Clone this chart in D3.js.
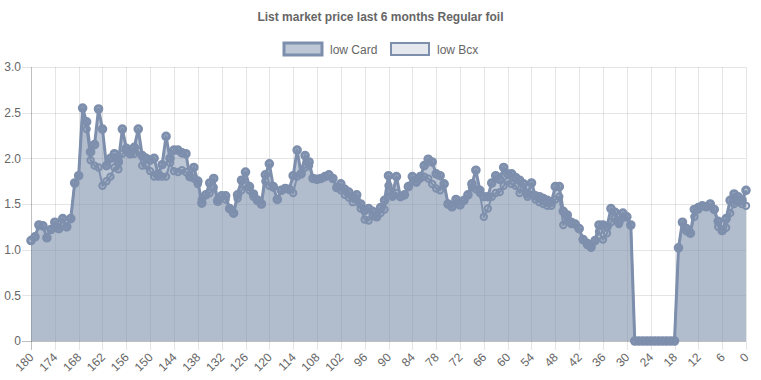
<!DOCTYPE html>
<html>
<head>
<meta charset="utf-8">
<script src="https://cdn.jsdelivr.net/npm/d3@7"></script>
<style>
  html, body { margin: 0; padding: 0; background: #fff; }
  svg { display: block; }
  text { font-family: "Liberation Sans", Arial, Helvetica, sans-serif; }
</style>
</head>
<body>
<svg id="chart" width="761" height="380"></svg>
<script>
// ---- data (days ago: 180 -> 0) ----
const days = d3.range(180, -1, -1);
const xTickLabels = [180,174,168,162,156,150,144,138,132,126,120,114,108,102,96,90,84,78,72,66,60,54,48,42,36,30,24,18,12,6,0];
const yTickValues = [0, 0.5, 1.0, 1.5, 2.0, 2.5, 3.0];
const seriesNames = ["low Card", "low Bcx"];

const lowCard = [
  1.10,1.14,1.27,1.26,1.13,1.22,1.30,1.23,1.34,1.25, // 180-171
  1.34,1.73,1.81,2.55,2.40,2.07,2.15,2.54,2.32,1.92, // 170-161
  2.00,2.05,1.96,2.32,2.11,2.05,2.12,2.32,2.03,2.00, // 160-151
  1.98,2.00,1.83,1.93,2.24,2.00,2.09,2.09,2.06,2.05, // 150-141
  1.80,1.90,1.75,1.51,1.60,1.73,1.78,1.53,1.59,1.59, // 140-131
  1.45,1.40,1.60,1.76,1.85,1.69,1.61,1.54,1.50,1.82, // 130-121
  1.94,1.69,1.55,1.65,1.67,1.66,1.81,2.09,1.83,2.03, // 120-111
  1.96,1.78,1.77,1.78,1.80,1.82,1.78,1.68,1.72,1.66, // 110-101
  1.63,1.58,1.60,1.50,1.43,1.45,1.42,1.36,1.46,1.54, // 100-91
  1.81,1.60,1.80,1.58,1.60,1.69,1.80,1.74,1.80,1.92, // 90-81
  1.99,1.96,1.83,1.81,1.72,1.50,1.47,1.55,1.49,1.54, // 80-71
  1.60,1.72,1.87,1.65,1.58,1.58,1.73,1.81,1.77,1.90, // 70-61
  1.83,1.83,1.79,1.76,1.72,1.61,1.73,1.59,1.58,1.56, // 60-51
  1.54,1.52,1.69,1.69,1.42,1.38,1.30,1.28,1.23,1.11, // 50-41
  1.07,1.03,1.10,1.27,1.27,1.25,1.45,1.41,1.30,1.40, // 40-31
  1.36,1.27,0,0,0,0,0,0,0,0,                         // 30-21
  0,0,0,1.02,1.30,1.23,1.18,1.44,1.46,1.48,          // 20-11
  1.47,1.50,1.44,1.31,1.21,1.34,1.54,1.61,1.58,1.54, // 10-1
  1.65                                               // 0
];

const lowBcx = [
  1.10,1.14,1.27,1.26,1.13,1.22,1.30,1.23,1.34,1.25, // 180-171
  1.34,1.73,1.81,2.55,2.32,1.98,1.92,1.90,1.70,1.75, // 170-161
  1.80,1.90,1.88,2.05,2.08,2.05,2.05,2.08,1.92,1.92, // 160-151
  1.86,1.80,1.80,1.80,1.80,1.95,1.86,1.85,1.87,1.85, // 150-141
  1.80,1.78,1.72,1.55,1.60,1.62,1.68,1.55,1.59,1.55, // 140-131
  1.45,1.40,1.56,1.65,1.70,1.65,1.58,1.55,1.50,1.75, // 130-121
  1.70,1.68,1.55,1.65,1.67,1.66,1.62,1.80,1.83,1.90, // 120-111
  1.92,1.78,1.77,1.78,1.80,1.82,1.78,1.68,1.65,1.60, // 110-101
  1.57,1.52,1.55,1.45,1.33,1.32,1.37,1.36,1.40,1.44, // 100-91
  1.70,1.58,1.62,1.58,1.60,1.69,1.80,1.74,1.78,1.80, // 90-81
  1.78,1.72,1.67,1.65,1.72,1.50,1.47,1.55,1.49,1.54, // 80-71
  1.60,1.68,1.66,1.62,1.36,1.45,1.58,1.62,1.63,1.70, // 70-61
  1.75,1.72,1.70,1.62,1.67,1.58,1.60,1.55,1.52,1.50, // 60-51
  1.48,1.48,1.55,1.58,1.27,1.35,1.28,1.28,1.23,1.11, // 50-41
  1.05,1.02,1.10,1.20,1.11,1.18,1.30,1.35,1.28,1.35, // 40-31
  1.36,1.27,0,0,0,0,0,0,0,0,                         // 30-21
  0,0,0,1.02,1.30,1.20,1.18,1.36,1.44,1.48,          // 20-11
  1.47,1.50,1.44,1.25,1.21,1.24,1.40,1.50,1.52,1.50, // 10-1
  1.48                                               // 0
];

// ---- layout ----
const svg = d3.select("#chart");
const plotLeft = 31, plotRight = 746, plotTop = 67, plotBottom = 341;
const x = d3.scaleLinear().domain([180, 0]).range([plotLeft, plotRight]);
const y = d3.scaleLinear().domain([0, 3]).range([plotBottom, plotTop]);

const baseRGB = "125,143,172";
const lineColor = `rgb(${baseRGB})`;
const textColor = "#666";

// title
svg.append("text")
  .attr("x", 380.5).attr("y", 21)
  .attr("text-anchor", "middle")
  .attr("font-size", 12).attr("font-weight", "bold")
  .attr("fill", textColor)
  .text("List market price last 6 months Regular foil");

// legend
const legendItems = [
  { name: seriesNames[0], fill: `rgba(${baseRGB},0.5)`, sw: 3, x: 284 },
  { name: seriesNames[1], fill: `rgba(${baseRGB},0.2)`, sw: 2, x: 391 }
];
legendItems.forEach(it => {
  svg.append("rect")
    .attr("x", it.x).attr("y", 43).attr("width", 38).attr("height", 12)
    .attr("fill", it.fill).attr("stroke", lineColor).attr("stroke-width", it.sw);
  svg.append("text")
    .attr("x", it.x + 46).attr("y", 53.5)
    .attr("font-size", 12).attr("fill", textColor)
    .text(it.name);
});

// grid
const grid = svg.append("g");
grid.selectAll("line.h").data(yTickValues).join("line")
  .attr("x1", plotLeft - 9).attr("x2", plotRight)
  .attr("y1", d => Math.round(y(d)) + 0.5).attr("y2", d => Math.round(y(d)) + 0.5)
  .attr("stroke", d => d === 0 ? "rgba(0,0,0,0.25)" : "rgba(0,0,0,0.1)").attr("stroke-width", 1);
grid.selectAll("line.v").data(xTickLabels).join("line")
  .attr("x1", d => Math.round(x(d)) + 0.5).attr("x2", d => Math.round(x(d)) + 0.5)
  .attr("y1", plotTop).attr("y2", plotBottom + 9)
  .attr("stroke", d => d === 180 ? "rgba(0,0,0,0.25)" : "rgba(0,0,0,0.1)").attr("stroke-width", 1);

// axes labels
const yAxis = d3.axisLeft(y).tickValues(yTickValues).tickSize(0)
  .tickFormat(d => d === 0 ? "0" : d3.format(".1f")(d));
const gy = svg.append("g").attr("transform", `translate(${plotLeft - 10},0)`).call(yAxis);
gy.select(".domain").remove();
gy.selectAll("text").attr("font-size", 12).attr("fill", textColor)
  .attr("font-family", "Liberation Sans, Arial, sans-serif").attr("x", 0);

const xAxis = d3.axisBottom(x).tickValues(xTickLabels).tickSize(0);
const gx = svg.append("g").attr("transform", `translate(0,${plotBottom})`).call(xAxis);
gx.select(".domain").remove();
gx.selectAll("text")
  .attr("font-size", 12).attr("fill", textColor)
  .attr("font-family", "Liberation Sans, Arial, sans-serif")
  .attr("text-anchor", "end")
  .attr("dy", null).attr("y", null)
  .attr("transform", "translate(3,17) rotate(-45)");

// series
const series = [
  { name: seriesNames[1], values: lowBcx, fillA: 0.2, lw: 2, pr: 3.2, pFill: `rgba(${baseRGB},0.2)`, pw: 2 },
  { name: seriesNames[0], values: lowCard, fillA: 0.5, lw: 3, pr: 3.3, pFill: `rgba(${baseRGB},0.5)`, pw: 3 }
];
const area = d3.area().x((d, i) => x(days[i])).y0(y(0)).y1(d => y(d));
const line = d3.line().x((d, i) => x(days[i])).y(d => y(d));

series.forEach(s => {
  const g = svg.append("g");
  g.append("path").attr("d", area(s.values)).attr("fill", `rgba(${baseRGB},${s.fillA})`);
  g.append("path").attr("d", line(s.values)).attr("fill", "none")
    .attr("stroke", lineColor).attr("stroke-width", s.lw).attr("stroke-linejoin", "round");
  g.selectAll("circle").data(s.values).join("circle")
    .attr("cx", (d, i) => x(days[i])).attr("cy", d => y(d))
    .attr("r", s.pr).attr("fill", s.pFill)
    .attr("stroke", lineColor).attr("stroke-width", s.pw);
});
</script>
</body>
</html>
